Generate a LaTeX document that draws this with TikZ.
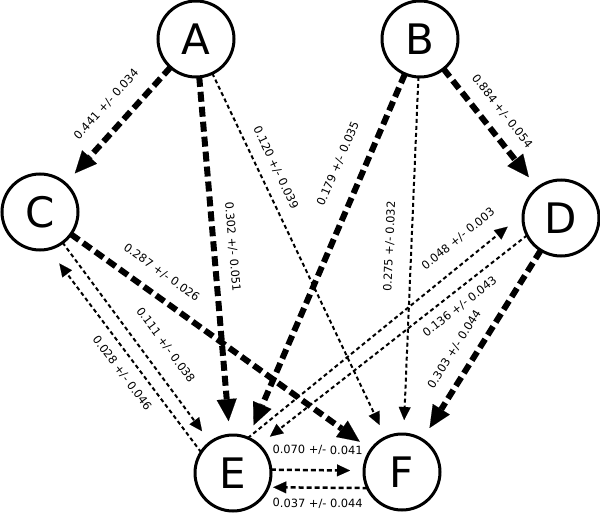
\documentclass[tikz,border=0pt]{standalone}
\usepackage{fontspec}
\setmainfont{DejaVu Sans}
\usetikzlibrary{arrows.meta}
\tikzset{
  vnode/.style={circle, draw, line width=3pt, minimum size=76pt, inner sep=0pt, outer sep=0pt, font=\fontsize{42}{42}\selectfont},
  heavy/.style={line width=6pt, dash pattern=on 10pt off 5pt, -{Triangle[length=22pt,width=20pt,line width=0.1pt]}, shorten >=14pt},
  light/.style={line width=2pt, dash pattern=on 4pt off 3pt, -{Triangle[length=13pt,width=12pt,line width=0.1pt]}, shorten >=14pt},
  medium/.style={line width=2.5pt, dash pattern=on 5pt off 3pt, -{Triangle[length=13pt,width=12pt,line width=0.1pt]}, shorten >=14pt},
  lab/.style={font=\fontsize{11.4}{12}\selectfont, inner sep=0pt, sloped},
}
\begin{document}
\begin{tikzpicture}[x=1pt,y=-1pt]
\useasboundingbox (0,0) rectangle (600,514);
\node[vnode] (A) at (196,39) {A};
\node[vnode] (B) at (420,39) {B};
\node[vnode] (C) at (40,212) {C};
\node[vnode] (D) at (561,218) {D};
\node[vnode] (E) at (233,473) {E};
\node[vnode] (F) at (402,472) {F};

\draw[heavy] (A) -- node[lab, pos=0.45, above=15pt] (lAC) {0.441 +/- 0.034} (C);
\draw[heavy] (A) -- node[lab, pos=0.479, above=11pt] (lAE) {0.302 +/- 0.051} (E);
\draw[light] (A) -- node[lab, pos=0.279, above=11pt] (lAF) {0.120 +/- 0.039} (F);
\draw[heavy] (B) -- node[lab, pos=0.458, above=12pt] (lBD) {0.884 +/- 0.054} (D);
\draw[heavy] (B) -- node[lab, pos=0.275, above=18pt] (lBE) {0.179 +/- 0.035} (E);
\draw[light] (B) -- node[lab, pos=0.477, above=16pt] (lBF) {0.275 +/- 0.032} (F);
\draw[heavy] (C) -- node[lab, pos=0.26, above=14pt] (lCF) {0.287 +/- 0.026} (F);
\draw[light] (C) -- node[lab, pos=0.578, above=16pt] (lCE) {0.111 +/- 0.038} (E);
\draw[light, shorten >=18pt] (E.147) -- node[lab, pos=0.436, below=10pt] (lEC) {0.028 +/- 0.046} (C.-77);
\draw[heavy] (D) -- node[lab, pos=0.58, above=13pt] (lDF) {0.303 +/- 0.044} (F);
\draw[light] (D.207) -- node[lab, pos=0.285, below=9pt] (lDE) {0.136 +/- 0.043} (E.47);
\draw[light, shorten >=20pt] (E.67) -- node[lab, pos=0.814, above=16pt] (lED) {0.048 +/- 0.003} (D.174);
\draw[medium] (E.5) -- node[lab, midway, above=14pt] (lEF) {0.070 +/- 0.041} (F.178);
\draw[medium, shorten >=5pt] (F.205) -- node[lab, midway, below=10pt] (lFE) {0.037 +/- 0.044} (E.-22);
\end{tikzpicture}
\end{document}
